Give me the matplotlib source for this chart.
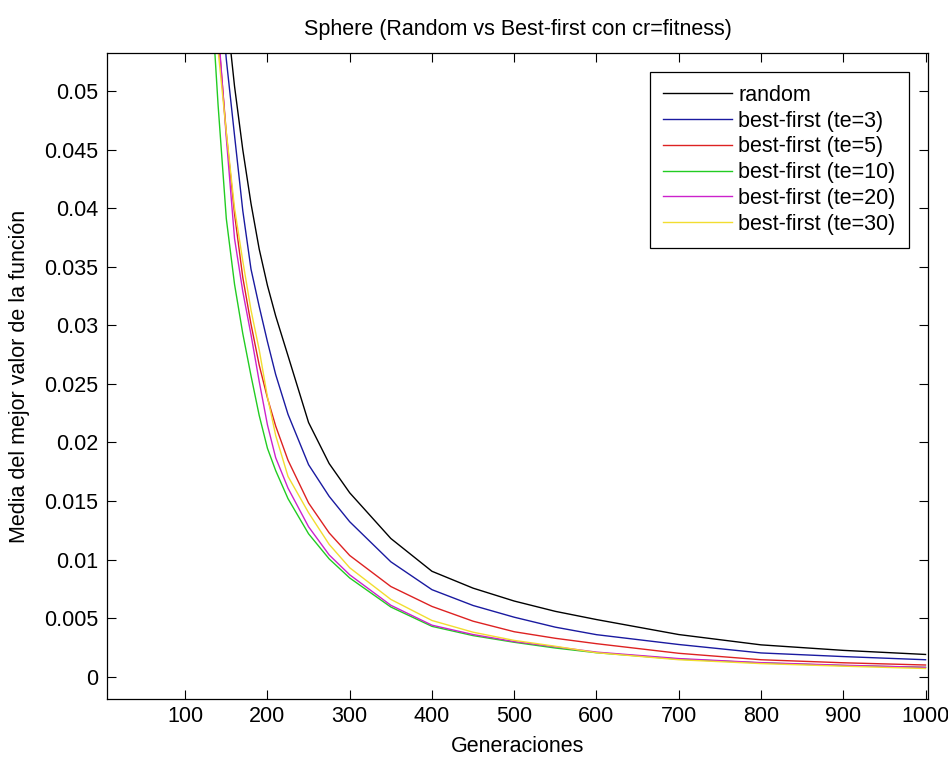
import matplotlib
matplotlib.use("Agg")
import matplotlib.pyplot as plt

generaciones = [120, 130, 140, 150, 160, 170, 180, 190, 200, 210, 225, 250,
                275, 300, 350, 400, 450, 500, 550, 600, 700, 800, 900, 1000]

random_vals = [0.087, 0.0748, 0.065, 0.057, 0.0504, 0.045, 0.0404, 0.0365,
               0.0334, 0.0308, 0.0274, 0.0217, 0.0182, 0.0157, 0.0118, 0.0090,
               0.00756, 0.00646, 0.00558, 0.00488, 0.0036, 0.00272, 0.00225,
               0.0019]
bf_te3 = [0.084, 0.071, 0.061, 0.0527, 0.0462, 0.0398, 0.0348, 0.0316,
          0.0286, 0.0258, 0.0224, 0.0181, 0.0154, 0.01323, 0.00981, 0.00743,
          0.00608, 0.00508, 0.00423, 0.00359, 0.00275, 0.00203, 0.00172,
          0.00145]
bf_te5 = [0.0795, 0.0657, 0.055, 0.0464, 0.0395, 0.0341, 0.0301, 0.0266,
          0.0238, 0.0214, 0.01848, 0.01483, 0.01228, 0.01035, 0.0077, 0.0060,
          0.00474, 0.00384, 0.00328, 0.00282, 0.0020, 0.00145, 0.00119,
          0.0010]
bf_te10 = [0.0753, 0.0602, 0.0488, 0.0391, 0.0335, 0.0293, 0.0257, 0.0223,
           0.0195, 0.0176, 0.0152, 0.0122, 0.01006, 0.00843, 0.00595, 0.0043,
           0.00351, 0.00294, 0.00245, 0.00205, 0.0015, 0.00118, 0.00095,
           0.0008]
bf_te20 = [0.081, 0.067, 0.0555, 0.046, 0.0374, 0.0329, 0.0292, 0.0252,
           0.0215, 0.0187, 0.0161, 0.0128, 0.0104, 0.0087, 0.0061, 0.0044,
           0.0036, 0.0030, 0.00255, 0.0021, 0.00155, 0.0012, 0.00098, 0.0008]
bf_te30 = [0.077, 0.064, 0.0535, 0.0465, 0.040, 0.0355, 0.0313, 0.0279,
           0.0239, 0.0206, 0.0171, 0.0140, 0.0113, 0.0093, 0.0066, 0.0048,
           0.0038, 0.0031, 0.0026, 0.00205, 0.00145, 0.00112, 0.0009, 0.0007]

labels = ["random", "best-first (te=3)", "best-first (te=5)",
          "best-first (te=10)", "best-first (te=20)", "best-first (te=30)"]
series = [random_vals, bf_te3, bf_te5, bf_te10, bf_te20, bf_te30]
colors = ["#000000", "#1a1aa0", "#dd2222", "#22cc22", "#cc22cc", "#f2dd30"]

xticks = [100, 200, 300, 400, 500, 600, 700, 800, 900, 1000]
yticks = [0, 0.005, 0.01, 0.015, 0.02, 0.025, 0.03, 0.035, 0.04, 0.045, 0.05]
ytick_labels = ["0", "0.005", "0.01", "0.015", "0.02", "0.025", "0.03",
                "0.035", "0.04", "0.045", "0.05"]

plt.rcParams['font.family'] = ['Liberation Sans', 'DejaVu Sans']
fs = 15.5

fig = plt.figure(figsize=(9.48, 7.58), dpi=100)
ax = fig.add_axes([0.1129, 0.0774, 0.8660, 0.8531])

for vals, lab, col in zip(series, labels, colors):
    ax.plot(generaciones, vals, color=col, lw=1.0, label=lab)

ax.set_xlim(5, 1003)
ax.set_ylim(-0.00193, 0.05327)
ax.set_xticks(xticks)
ax.set_xticklabels([str(t) for t in xticks], fontsize=fs)
ax.set_yticks(yticks)
ax.set_yticklabels(ytick_labels, fontsize=fs)
ax.tick_params(axis='y', pad=6.5)
ax.tick_params(axis='x', pad=5)
ax.tick_params(direction='in', length=6.5, width=0.8, top=True, right=True)
for sp in ax.spines.values():
    sp.set_linewidth(0.9)

ax.set_title("Sphere (Random vs Best-first con cr=fitness)", fontsize=fs, pad=12.5)
ax.set_xlabel("Generaciones", fontsize=fs, labelpad=6.5)
ax.set_ylabel("Media del mejor valor de la función", fontsize=fs, labelpad=10)

leg = ax.legend(loc='upper right', fontsize=fs, frameon=True, fancybox=False,
                edgecolor='black', framealpha=1, handlelength=3.2,
                handletextpad=0.3, borderpad=0.6, labelspacing=0.22,
                borderaxespad=0.9)
leg.get_frame().set_linewidth(0.9)

fig.savefig("out.png", dpi=100)
